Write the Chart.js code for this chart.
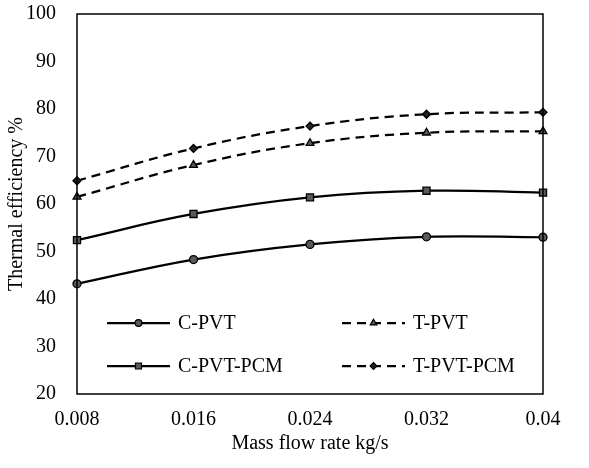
<!DOCTYPE html>
<html>
<head>
<meta charset="utf-8">
<script src="https://cdn.jsdelivr.net/npm/chart.js@4/dist/chart.umd.min.js"></script>
<style>
html,body{margin:0;padding:0;background:#fff;}
#wrap{width:589px;height:468px;}
</style>
</head>
<body>
<div id="wrap"><canvas id="c" width="589" height="468"></canvas></div>
<script>
const categories = ["0.008", "0.016", "0.024", "0.032", "0.04"];
const cPVT = [43.2, 48.3, 51.5, 53.1, 53.0];
const tPVT = [61.5, 68.2, 72.8, 75.0, 75.3];
const cPVTPCM = [52.4, 57.9, 61.4, 62.8, 62.4];
const tPVTPCM = [64.9, 71.7, 76.4, 78.9, 79.3];
const yTicks = [20, 30, 40, 50, 60, 70, 80, 90, 100];
const seriesNames = ["C-PVT", "T-PVT", "C-PVT-PCM", "T-PVT-PCM"];

const FONT = "'Liberation Serif', 'Times New Roman', serif";
const FS = 20;
const MARKER_FILL = '#595959';

function ds(label, data, dashed, style, radius) {
  return {
    label, data,
    borderColor: '#000', borderWidth: 2.25,
    borderDash: dashed ? [9, 6] : [],
    tension: 0.4,
    pointStyle: style, pointRadius: radius, pointHoverRadius: radius,
    pointBackgroundColor: style === 'rectRot' ? '#222' : MARKER_FILL,
    pointBorderColor: '#000', pointBorderWidth: 1.3,
    clip: false, fill: false
  };
}

const datasets = [
  ds(seriesNames[0], cPVT, false, 'circle', 4),
  ds(seriesNames[1], tPVT, true, 'triangle', 4.5),
  ds(seriesNames[2], cPVTPCM, false, 'rect', 5),
  ds(seriesNames[3], tPVTPCM, true, 'rectRot', 4)
];

// legend drawn inside the plot area + frame
const innerLegend = {
  id: 'innerLegend',
  afterDraw(chart) {
    const ctx = chart.ctx;
    const a = chart.chartArea;
    ctx.save();
    ctx.strokeStyle = '#000';
    ctx.lineWidth = 1.5;
    ctx.strokeRect(a.left, a.top, a.right - a.left, a.bottom - a.top);
    const cols = [a.left + 30, a.left + 265];
    const rows = [323, 366];
    chart.data.datasets.forEach((d, i) => {
      const x0 = cols[i % 2];
      const y = rows[Math.floor(i / 2)];
      const x1 = x0 + 63;
      ctx.beginPath();
      ctx.setLineDash(d.borderDash.length ? [9, 6] : []);
      ctx.lineWidth = 2.25;
      ctx.strokeStyle = '#000';
      ctx.moveTo(x0, y); ctx.lineTo(x1, y);
      ctx.stroke();
      ctx.setLineDash([]);
      ctx.fillStyle = d.pointBackgroundColor;
      ctx.strokeStyle = '#000';
      ctx.lineWidth = 1.2;
      Chart.helpers.drawPoint(ctx, {pointStyle: d.pointStyle, rotation: 0, borderWidth: 1.2, radius: d.pointRadius * 0.85}, (x0 + x1) / 2, y);
      ctx.fillStyle = '#000';
      ctx.font = FS + 'px ' + FONT;
      ctx.textBaseline = 'middle';
      ctx.textAlign = 'left';
      ctx.fillText(d.label, x1 + 8, y + 1);
    });
    ctx.restore();
  }
};

new Chart(document.getElementById('c'), {
  type: 'line',
  data: { labels: categories, datasets },
  plugins: [innerLegend],
  options: {
    responsive: false,
    animation: false,
    events: [],
    layout: { padding: { top: 14, right: 46, left: 0, bottom: 0 } },
    plugins: { legend: { display: false }, tooltip: { enabled: false } },
    scales: {
      x: {
        type: 'category',
        offset: false,
        grid: { display: false, drawTicks: false },
        border: { display: false },
        ticks: { color: '#000', font: { family: FONT, size: FS }, padding: 14, maxRotation: 0, autoSkip: false },
        title: { display: true, text: 'Mass flow rate kg/s', color: '#000', font: { family: FONT, size: FS }, padding: { top: 0, bottom: 12 } },
        afterFit(s) { s.height = 74; s.paddingLeft = 0; s.paddingRight = 0; }
      },
      y: {
        min: 20, max: 100,
        grid: { display: false, drawTicks: false },
        border: { display: false },
        afterBuildTicks(s) { s.ticks = yTicks.map(v => ({ value: v })); },
        ticks: { color: '#000', font: { family: FONT, size: FS }, padding: 21 },
        title: { display: true, text: 'Thermal efficiency %', color: '#000', font: { family: FONT, size: FS }, padding: { top: 5, bottom: 0 } },
        afterFit(s) { s.width = 77; s.paddingTop = 0; s.paddingBottom = 0; }
      }
    }
  }
});
</script>
</body>
</html>
